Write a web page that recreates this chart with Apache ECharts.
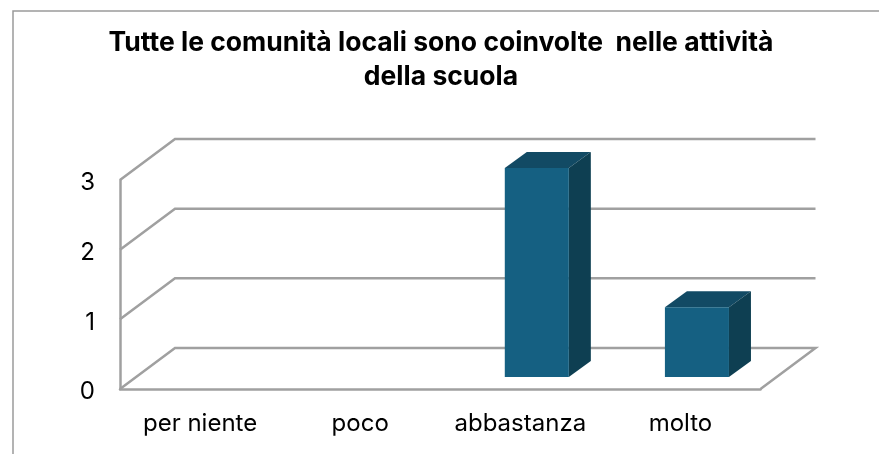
<!DOCTYPE html>
<html>
<head>
<meta charset="utf-8">
<style>
  html, body { margin: 0; padding: 0; background: #fff; }
  #chart { width: 879px; height: 454px; }
</style>
<script src="https://cdn.jsdelivr.net/npm/echarts@6/dist/echarts.min.js"></script>
</head>
<body>
<div id="chart"></div>
<script>
const chartTitle = 'Tutte le comunità locali sono coinvolte  nelle attività\ndella scuola';
const categories = ['per niente', 'poco', 'abbastanza', 'molto'];
const values = [0, 0, 3, 1];
const yTicks = [0, 1, 2, 3];

// 3d look: wall depth and how far bars sit from the front edge
const wallDx = 55, wallDy = -41;
const barOffX = 16.5, barOffY = -12;
const barDx = 22, barDy = -16;
const barRatio = 0.4;

const gridColor = '#a0a0a0';
const textFont = 'Inter';

const myChart = echarts.init(document.getElementById('chart'));

function renderWall(params, api) {
    const v = api.value(0);
    const band = api.size([1, 0])[0];
    const left = api.coord([0, v]);
    const x0 = left[0] - band / 2;
    const x1 = x0 + band * categories.length;
    const y = left[1];
    const points = [[x0, y], [x0 + wallDx, y + wallDy], [x1 + wallDx, y + wallDy]];
    if (v === 0) {
        points.push([x1, y]);
    }
    return {
        type: 'polyline',
        shape: { points: points },
        style: { fill: null, stroke: gridColor, lineWidth: 2.5 }
    };
}

function renderBar(params, api) {
    const v = api.value(1);
    if (!v) {
        return null;
    }
    const band = api.size([1, 0])[0];
    const w = band * barRatio;
    const top = api.coord([api.value(0), v]);
    const base = api.coord([api.value(0), 0]);
    const x0 = top[0] - w / 2 + barOffX;
    const x1 = x0 + w;
    const y0 = top[1] + barOffY;
    const y1 = base[1] + barOffY;
    return {
        type: 'group',
        children: [
            {
                type: 'polygon',
                shape: { points: [[x0, y0], [x0 + barDx, y0 + barDy], [x1 + barDx, y0 + barDy], [x1, y0]] },
                style: { fill: '#124a64' }
            },
            {
                type: 'polygon',
                shape: { points: [[x1, y0], [x1 + barDx, y0 + barDy], [x1 + barDx, y1 + barDy], [x1, y1]] },
                style: { fill: '#0e3f52' }
            },
            {
                type: 'rect',
                shape: { x: x0, y: y0, width: w, height: y1 - y0 },
                style: { fill: '#156082' }
            }
        ]
    };
}

const option = {
    animation: false,
    backgroundColor: '#fff',
    title: {
        text: chartTitle,
        left: 436,
        top: 21,
        textAlign: 'center',
        textStyle: {
            fontFamily: textFont,
            fontWeight: 'bold',
            fontSize: 26.5,
            lineHeight: 34,
            color: '#000'
        }
    },
    grid: { left: 120, right: 118.5, top: 180, bottom: 65 },
    xAxis: {
        type: 'category',
        data: categories,
        axisTick: { show: false },
        axisLine: { show: true, lineStyle: { color: gridColor, width: 2.5 } },
        axisLabel: { interval: 0, margin: 23, fontFamily: textFont, fontSize: 24, color: '#000' }
    },
    yAxis: {
        type: 'value',
        min: 0,
        max: 3,
        interval: 1,
        splitLine: { show: false },
        axisTick: { show: false },
        axisLine: { show: true, lineStyle: { color: gridColor, width: 2.5 } },
        axisLabel: { margin: 25, verticalAlign: 'top', lineHeight: 6, fontFamily: textFont, fontSize: 24, color: '#000' }
    },
    graphic: [
        {
            type: 'polyline',
            shape: { points: [[13, 454], [13, 11], [879, 11]] },
            style: { fill: null, stroke: '#9a9a9a', lineWidth: 1.5 }
        }
    ],
    series: [
        {
            type: 'custom',
            clip: false,
            silent: true,
            z: 1,
            renderItem: renderWall,
            data: yTicks.map(function (t) { return [t]; })
        },
        {
            type: 'custom',
            clip: false,
            z: 3,
            renderItem: renderBar,
            encode: { x: 0, y: 1 },
            data: values.map(function (v, i) { return [i, v]; })
        }
    ]
};
myChart.setOption(option);
</script>
</body>
</html>
